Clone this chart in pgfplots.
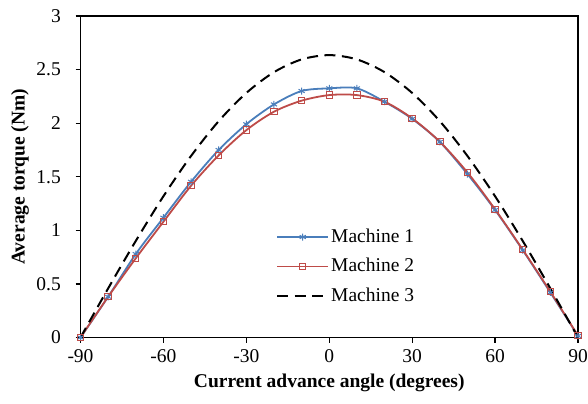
\documentclass[border=0pt]{standalone}
\usepackage{fontspec}
\setmainfont{Liberation Serif}
\usepackage{pgfplots}
\pgfplotsset{compat=1.18}
\definecolor{mblue}{HTML}{4A7EBB}
\definecolor{mred}{HTML}{BE4B48}
\begin{document}
\fontsize{19.5bp}{23bp}\selectfont
\begin{tikzpicture}
\begin{axis}[
  scale only axis, width=497.5bp, height=321.5bp,
  xmin=-90, xmax=90, ymin=0, ymax=3,
  xtick={-90,-60,-30,0,30,60,90},
  ytick={0,0.5,1,1.5,2,2.5,3},
  tick align=outside, xtick pos=bottom, ytick pos=left,
  major tick length=5bp,
  axis line style={line width=1.2bp},
  every tick/.style={line width=1.2bp, black},
  /pgf/number format/assume math mode=true,
  ticklabel style={font=\fontsize{19.5bp}{23bp}\selectfont},
  yticklabel style={xshift=-8bp},
  xlabel={\textbf{Current advance angle (degrees)}},
  ylabel={\textbf{Average torque (Nm)}},
  label style={font=\fontsize{19.5bp}{23bp}\selectfont},
  xlabel style={at={(axis description cs:0.5,-0.1415)}, anchor=center},
  ylabel style={at={(axis description cs:-0.1216,0.5)}, anchor=center},
  legend style={at={(0.393,0.345)}, anchor=north west, draw=none, fill=none,
    inner sep=0pt, row sep=9bp, font=\fontsize{19.5bp}{23bp}\selectfont},
  legend cell align=left,
  legend image code/.code={\draw[mark repeat=2,mark phase=2] plot coordinates {(0bp,0bp) (25.5bp,0bp) (51bp,0bp)};},
]
\coordinate (bl) at (rel axis cs:0,0);
\coordinate (tr) at (rel axis cs:1,1);
\addplot[mblue, line width=1.8bp, smooth, mark=asterisk, mark size=3.5bp, mark options={solid,line width=1bp}] coordinates {
(-90,0) (-80,0.38) (-70,0.779) (-60,1.118) (-50,1.453) (-40,1.75) (-30,1.99) (-20,2.175) (-10,2.30) (0,2.325) (10,2.325) (20,2.20) (30,2.04) (40,1.825) (50,1.525) (60,1.19) (70,0.815) (80,0.42) (90,0.015)};
\addlegendentry{Machine 1}
\addplot[mred, line width=1.8bp, smooth, mark=square, mark size=3.2bp, mark options={solid,line width=1bp}] coordinates {
(-90,0) (-80,0.38) (-70,0.739) (-60,1.08) (-50,1.416) (-40,1.70) (-30,1.935) (-20,2.107) (-10,2.21) (0,2.262) (10,2.262) (20,2.20) (30,2.045) (40,1.827) (50,1.54) (60,1.196) (70,0.82) (80,0.427) (90,0.017)};
\addlegendentry{Machine 2}
\addplot[black, line width=2bp, smooth, dash pattern=on 11bp off 6.5bp] coordinates {
(-90,0) (-80,0.458) (-70,0.901) (-60,1.318) (-50,1.694) (-40,2.019) (-30,2.282) (-20,2.476) (-10,2.595) (0,2.635) (10,2.595) (20,2.476) (30,2.282) (40,2.019) (50,1.694) (60,1.318) (70,0.901) (80,0.458) (90,0)};
\addlegendentry{Machine 3}
\end{axis}
\pgfresetboundingbox
\path ([xshift=-80.5bp,yshift=-65.5bp]bl) rectangle ([xshift=10bp,yshift=16bp]tr);
\end{tikzpicture}
\end{document}
